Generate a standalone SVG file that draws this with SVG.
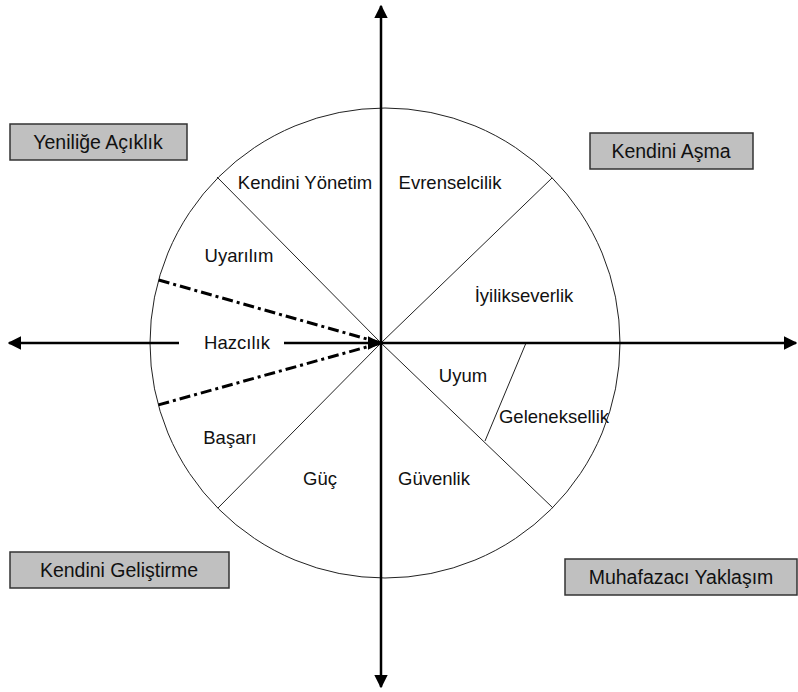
<svg xmlns="http://www.w3.org/2000/svg" width="798" height="692" viewBox="0 0 798 692">
<style>
  .lbl { font-family: "Liberation Sans", Arial, sans-serif; font-size: 18.5px; fill: #111; }
  .box rect { fill: #c0c0c0; stroke: #333; stroke-width: 1.5; }
  .box text { font-size: 19.5px; }
  .thin { stroke: #222; stroke-width: 1; fill: none; }
  .axis { stroke: #000; stroke-width: 2.5; fill: none; }
  .dd { stroke: #000; stroke-width: 3; fill: none; stroke-dasharray: 11 4 3 4; }
</style>
<defs>
  <marker id="ah" viewBox="0 0 10 10" refX="9" refY="5" markerWidth="5.5" markerHeight="5.5" orient="auto" markerUnits="strokeWidth">
    <path d="M0,0 L10,5 L0,10 z" fill="#000"/>
  </marker>
</defs>
<rect width="798" height="692" fill="#fff"/>
<g id="circle">
  <circle cx="385" cy="343" r="235" class="thin"/>
</g>
<g id="connectors">
  <line x1="381" y1="343" x2="217" y2="177" class="thin"/>
  <line x1="381" y1="343" x2="552" y2="178" class="thin"/>
  <line x1="381" y1="343" x2="218" y2="508" class="thin"/>
  <line x1="381" y1="343" x2="553" y2="508" class="thin"/>
  <line x1="526" y1="343" x2="485" y2="441" class="thin"/>
  <line x1="381" y1="343" x2="155" y2="279" class="dd"/>
  <line x1="381" y1="343" x2="158" y2="405" class="dd"/>
  <line x1="381" y1="343" x2="381" y2="6" class="axis" marker-end="url(#ah)"/>
  <line x1="381" y1="343" x2="381" y2="687" class="axis" marker-end="url(#ah)"/>
  <line x1="381" y1="343" x2="796" y2="343" class="axis" marker-end="url(#ah)"/>
  <line x1="179" y1="343" x2="9" y2="343" class="axis" marker-end="url(#ah)"/>
  <line x1="284" y1="343" x2="380" y2="343" class="axis" marker-end="url(#ah)"/>
</g>
<g id="n-kendini-yonetim"><text class="lbl" x="305" y="189" text-anchor="middle">Kendini Yönetim</text></g>
<g id="n-evrenselcilik"><text class="lbl" x="450" y="189" text-anchor="middle">Evrenselcilik</text></g>
<g id="n-uyarilim"><text class="lbl" x="239" y="262" text-anchor="middle">Uyarılım</text></g>
<g id="n-iyilikseverlik"><text class="lbl" x="524" y="302" text-anchor="middle">İyilikseverlik</text></g>
<g id="n-hazcilik"><text class="lbl" x="237" y="349" text-anchor="middle">Hazcılık</text></g>
<g id="n-uyum"><text class="lbl" x="463" y="382" text-anchor="middle">Uyum</text></g>
<g id="n-geleneksellik"><text class="lbl" x="554" y="423" text-anchor="middle">Geleneksellik</text></g>
<g id="n-basari"><text class="lbl" x="230" y="444" text-anchor="middle">Başarı</text></g>
<g id="n-guc"><text class="lbl" x="320" y="485" text-anchor="middle">Güç</text></g>
<g id="n-guvenlik"><text class="lbl" x="434" y="485" text-anchor="middle">Güvenlik</text></g>
<g id="b-yenilige" class="box"><rect x="10" y="124" width="177" height="36"/><text class="lbl" x="98" y="149" text-anchor="middle">Yeniliğe Açıklık</text></g>
<g id="b-kendini-asma" class="box"><rect x="590" y="133" width="163" height="36"/><text class="lbl" x="671" y="158" text-anchor="middle">Kendini Aşma</text></g>
<g id="b-kendini-gelistirme" class="box"><rect x="10" y="552" width="219" height="36"/><text class="lbl" x="119" y="577" text-anchor="middle">Kendini Geliştirme</text></g>
<g id="b-muhafazaci" class="box"><rect x="565" y="559" width="232" height="36"/><text class="lbl" x="681" y="584" text-anchor="middle">Muhafazacı Yaklaşım</text></g>
</svg>
